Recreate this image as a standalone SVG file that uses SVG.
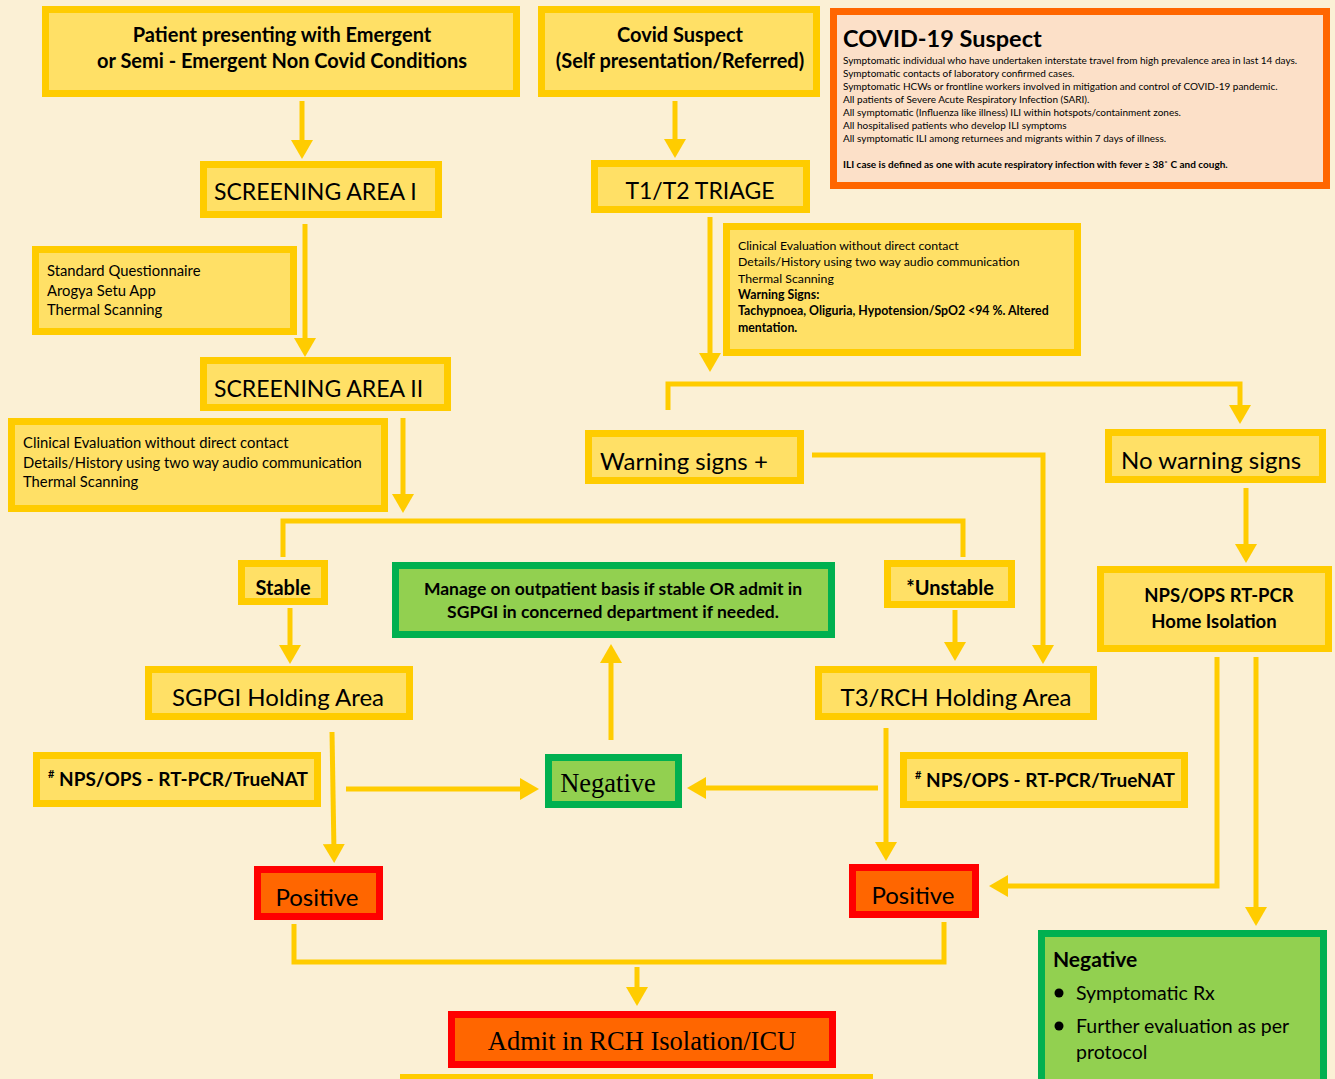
<svg xmlns="http://www.w3.org/2000/svg" width="1335" height="1079" viewBox="0 0 1335 1079">
<defs>
<style>
.bg{fill:#FBF0D5}
.y{fill:#FFE066;stroke:#FFCC00;stroke-width:7}
.g{fill:#92D050;stroke:#00B050;stroke-width:7}
.r{fill:#FF6600;stroke:#FF0000;stroke-width:7}
.o{fill:#FCE0C8;stroke:#FF6600;stroke-width:7}
text{font-family:Lato,"Open Sans","Liberation Sans",sans-serif;fill:#000}
.b{font-weight:bold}
.t24{font-size:24px}
.t23{font-size:23px}
.t18{font-size:18.5px}
.t14{font-size:14.8px}
.t12{font-size:12.3px}
.t9{font-size:10px}
.serif{font-family:"Liberation Serif","Times New Roman",serif;font-size:26.5px}
.c{text-anchor:middle}
.cn line,.cn polyline{stroke:#FFCC00;stroke-width:5;fill:none}
</style>
<marker id="ah" markerUnits="userSpaceOnUse" markerWidth="20" markerHeight="22" refX="8" refY="11" orient="auto">
<path d="M0,0 L19,11 L0,22 z" fill="#FFCC00"/>
</marker>
</defs>
<rect class="bg" x="0" y="0" width="1335" height="1079"/>

<g id="connectors" class="cn">
<line x1="302" y1="101" x2="302" y2="148" marker-end="url(#ah)"/>
<line x1="675" y1="101" x2="675" y2="147" marker-end="url(#ah)"/>
<line x1="305" y1="224" x2="305" y2="346" marker-end="url(#ah)"/>
<line x1="710" y1="217" x2="710" y2="361" marker-end="url(#ah)"/>
<polyline points="668,410 668,384 1240,384 1240,413" marker-end="url(#ah)"/>
<line x1="403" y1="418" x2="403" y2="502" marker-end="url(#ah)"/>
<polyline points="283,557 283,521 963,521 963,557"/>
<line x1="290" y1="608" x2="290" y2="653" marker-end="url(#ah)"/>
<line x1="955" y1="610" x2="955" y2="650" marker-end="url(#ah)"/>
<polyline points="812,455 1043,455 1043,653" marker-end="url(#ah)"/>
<line x1="1246" y1="488" x2="1246" y2="552" marker-end="url(#ah)"/>
<line x1="332" y1="732" x2="334" y2="852" marker-end="url(#ah)"/>
<line x1="346" y1="789" x2="528" y2="789" marker-end="url(#ah)"/>
<line x1="886" y1="728" x2="886" y2="850" marker-end="url(#ah)"/>
<line x1="878" y1="788" x2="698" y2="788" marker-end="url(#ah)"/>
<line x1="611" y1="740" x2="611" y2="655" marker-end="url(#ah)"/>
<polyline points="1217,657 1217,886 1000,886" marker-end="url(#ah)"/>
<line x1="1256" y1="657" x2="1256" y2="915" marker-end="url(#ah)"/>
<polyline points="294,924 294,962 944,962 944,922"/>
<line x1="637" y1="967" x2="637" y2="995" marker-end="url(#ah)"/>
</g>

<g id="n-patient">
<rect class="y" x="45.5" y="9.5" width="471" height="84"/>
<text class="b c" x="282" y="42" style="font-size:20px">Patient presenting with Emergent</text>
<text class="b c" x="282" y="68" style="font-size:20px">or Semi - Emergent Non Covid Conditions</text>
</g>
<g id="n-covid">
<rect class="y" x="541.5" y="9.5" width="275" height="84"/>
<text class="b c" x="680" y="42" style="font-size:20px">Covid Suspect</text>
<text class="b c" x="680" y="68" style="font-size:20px">(Self presentation/Referred)</text>
</g>
<g id="n-def">
<rect class="o" x="833.5" y="11.5" width="493" height="174"/>
<text class="b" x="843" y="47" style="font-size:23.5px">COVID-19 Suspect</text>
<text class="t9" x="843" y="64">Symptomatic individual who have undertaken interstate travel from high prevalence area  in last 14 days.</text>
<text class="t9" x="843" y="77">Symptomatic contacts of laboratory confirmed cases.</text>
<text class="t9" x="843" y="90">Symptomatic HCWs or frontline workers involved in mitigation and control of COVID-19 pandemic.</text>
<text class="t9" x="843" y="103">All patients of Severe Acute Respiratory Infection (SARI).</text>
<text class="t9" x="843" y="116">All symptomatic (Influenza like illness) ILI within hotspots/containment zones.</text>
<text class="t9" x="843" y="129">All hospitalised patients who develop ILI symptoms</text>
<text class="t9" x="843" y="142">All symptomatic ILI among returnees and migrants within 7 days of illness.</text>
<text class="t9 b" x="843" y="168">ILI case is defined as one with acute respiratory infection with fever ≥ 38˚ C and cough.</text>
</g>
<g id="n-sa1">
<rect class="y" x="203.5" y="164.5" width="235" height="50"/>
<text class="t23" x="214" y="200">SCREENING AREA I</text>
</g>
<g id="n-triage">
<rect class="y" x="594.5" y="163.5" width="212" height="46"/>
<text class="t23 c" x="700" y="199">T1/T2 TRIAGE</text>
</g>
<g id="n-sq">
<rect class="y" x="35.5" y="249.5" width="258" height="82"/>
<text class="t14" x="47" y="276">Standard Questionnaire</text>
<text class="t14" x="47" y="296">Arogya Setu App</text>
<text class="t14" x="47" y="315">Thermal Scanning</text>
</g>
<g id="n-notes">
<rect class="y" x="726.5" y="226.5" width="351" height="126"/>
<text class="t12" x="738" y="250">Clinical Evaluation without direct contact</text>
<text class="t12" x="738" y="266">Details/History using two way audio communication</text>
<text class="t12" x="738" y="283">Thermal Scanning</text>
<text class="t12 b" x="738" y="299">Warning Signs:</text>
<text class="t12 b" x="738" y="315">Tachypnoea, Oliguria, Hypotension/SpO2 &lt;94 %. Altered</text>
<text class="t12 b" x="738" y="332">mentation.</text>
</g>
<g id="n-sa2">
<rect class="y" x="203.5" y="360.5" width="244" height="47"/>
<text class="t23" x="214" y="397">SCREENING AREA II</text>
</g>
<g id="n-clin">
<rect class="y" x="11.5" y="421.5" width="373" height="87"/>
<text class="t14" x="23" y="448">Clinical Evaluation without direct contact</text>
<text class="t14" x="23" y="468">Details/History using two way audio communication</text>
<text class="t14" x="23" y="487">Thermal Scanning</text>
</g>
<g id="n-warn">
<rect class="y" x="588.5" y="433.5" width="212" height="47"/>
<text class="t24" x="600" y="470">Warning signs +</text>
</g>
<g id="n-nowarn">
<rect class="y" x="1108.5" y="432.5" width="214" height="47"/>
<text class="t24" x="1121" y="469">No warning signs</text>
</g>
<g id="n-stable">
<rect class="y" x="241.5" y="563.5" width="83" height="38"/>
<text class="b c" x="283" y="595" style="font-size:20px">Stable</text>
</g>
<g id="n-manage">
<rect class="g" x="395.5" y="565.5" width="436" height="69"/>
<text class="b c" x="613" y="595" style="font-size:17.5px">Manage on outpatient basis if stable  OR admit in</text>
<text class="b c" x="613" y="618" style="font-size:17.5px">SGPGI in concerned department if needed.</text>
</g>
<g id="n-unstable">
<rect class="y" x="887.5" y="563.5" width="124" height="41"/>
<text class="b c" x="950" y="595" style="font-size:20px">*Unstable</text>
</g>
<g id="n-home">
<rect class="y" x="1100.5" y="569.5" width="228" height="79"/>
<text class="b t18 c" x="1219" y="602">NPS/OPS RT-PCR</text>
<text class="b t18 c" x="1214" y="628">Home Isolation</text>
</g>
<g id="n-sgpgi">
<rect class="y" x="148.5" y="669.5" width="261" height="47"/>
<text class="t24 c" x="278" y="706">SGPGI Holding Area</text>
</g>
<g id="n-t3">
<rect class="y" x="818.5" y="669.5" width="275" height="47"/>
<text class="t24 c" x="956" y="706">T3/RCH Holding Area</text>
</g>
<g id="n-nps1">
<rect class="y" x="36.5" y="755.5" width="281" height="48"/>
<text class="b" x="48" y="786" style="font-size:19px"><tspan style="font-size:11px" dy="-8">#</tspan><tspan dy="8"> NPS/OPS - RT-PCR/TrueNAT</tspan></text>
</g>
<g id="n-neg">
<rect class="g" x="548.5" y="757.5" width="130" height="47"/>
<text class="serif c" x="608" y="792">Negative</text>
</g>
<g id="n-nps2">
<rect class="y" x="903.5" y="755.5" width="281" height="49"/>
<text class="b" x="915" y="787" style="font-size:19px"><tspan style="font-size:11px" dy="-8">#</tspan><tspan dy="8"> NPS/OPS - RT-PCR/TrueNAT</tspan></text>
</g>
<g id="n-pos1">
<rect class="r" x="257.5" y="869.5" width="122" height="47"/>
<text class="t24 c" x="317" y="906">Positive</text>
</g>
<g id="n-pos2">
<rect class="r" x="852.5" y="867.5" width="123" height="47"/>
<text class="t24 c" x="913" y="904">Positive</text>
</g>
<g id="n-negbr">
<rect class="g" x="1041.5" y="933.5" width="282" height="160"/>
<text class="b" x="1053" y="967" style="font-size:21px">Negative</text>
<circle cx="1059" cy="993" r="4.5" fill="#000"/>
<text x="1076" y="1000" style="font-size:19.5px">Symptomatic Rx</text>
<circle cx="1059" cy="1026" r="4.5" fill="#000"/>
<text x="1076" y="1033" style="font-size:19.5px">Further evaluation as per</text>
<text x="1076" y="1059" style="font-size:19.5px">protocol</text>
</g>
<g id="n-admit">
<rect class="r" x="451.5" y="1014.5" width="381" height="50"/>
<text class="serif c" x="642" y="1050">Admit in RCH Isolation/ICU</text>
</g>
<g id="n-partial">
<rect class="y" x="403.5" y="1077.5" width="466" height="30"/>
</g>
</svg>
